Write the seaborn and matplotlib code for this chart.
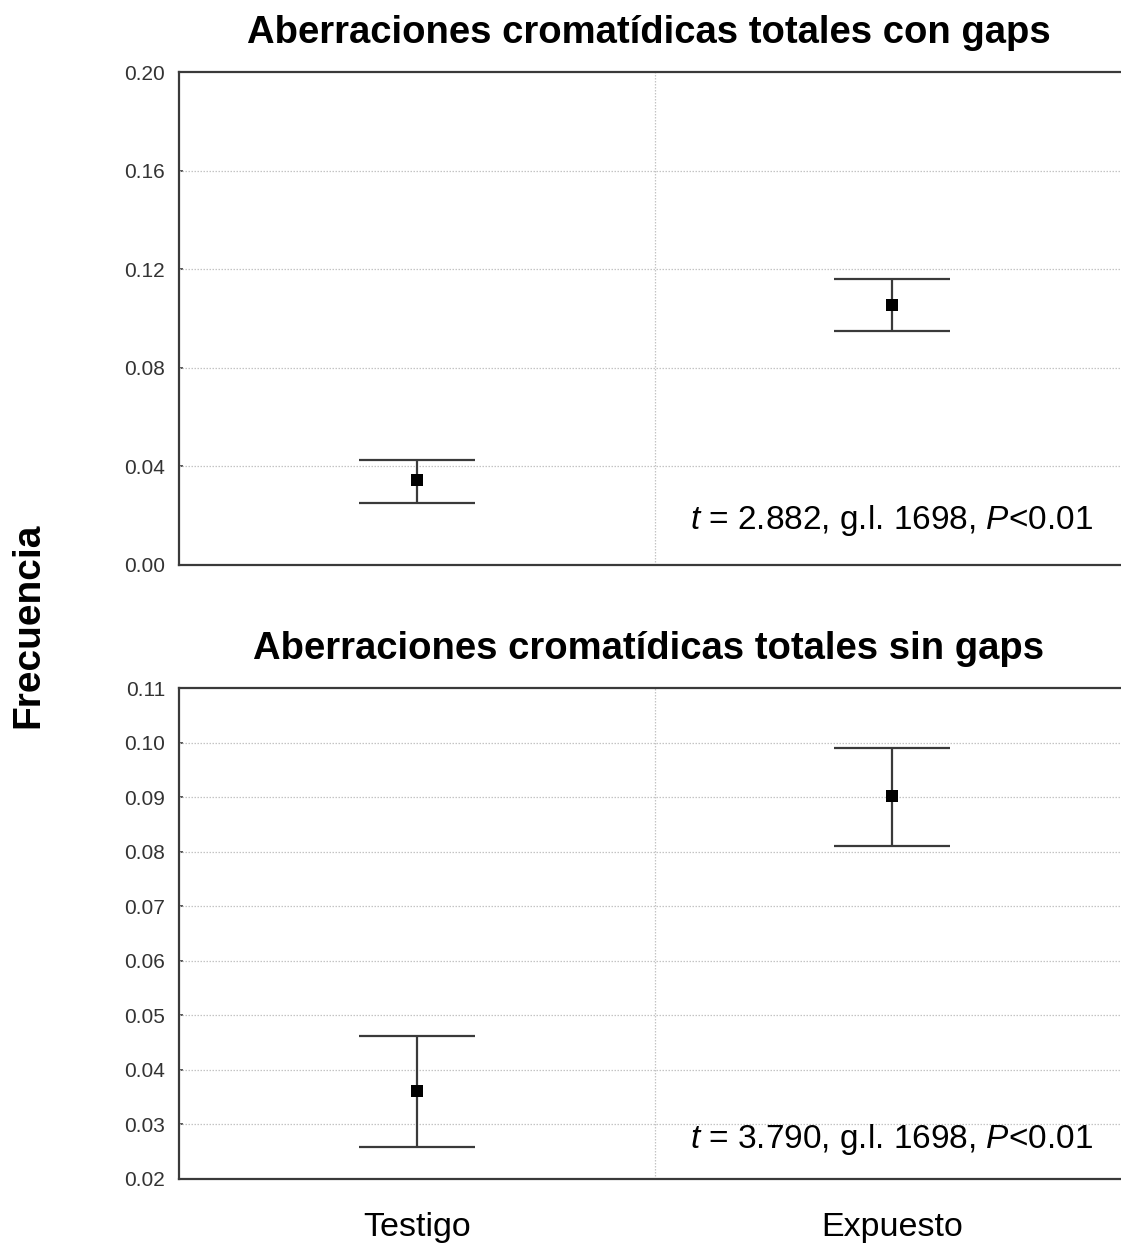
import matplotlib
matplotlib.use("Agg")
import matplotlib.pyplot as plt
import seaborn as sns
import pandas as pd

# Groups and summary statistics (mean with lower/upper interval limits)
groups = ["Testigo", "Expuesto"]

con_gaps_mean = [0.0345, 0.1055]
con_gaps_low = [0.0252, 0.0949]
con_gaps_high = [0.0426, 0.1160]

sin_gaps_mean = [0.0361, 0.0902]
sin_gaps_low = [0.0259, 0.0811]
sin_gaps_high = [0.0462, 0.0990]

titles = ["Aberraciones cromatídicas totales con gaps",
          "Aberraciones cromatídicas totales sin gaps"]
stats_text = [r"$\mathit{t}$ = 2.882, g.l. 1698, $\mathit{P}$<0.01",
              r"$\mathit{t}$ = 3.790, g.l. 1698, $\mathit{P}$<0.01"]
top_ticks = [0.00, 0.04, 0.08, 0.12, 0.16, 0.20]
bottom_ticks = [0.02, 0.03, 0.04, 0.05, 0.06, 0.07, 0.08, 0.09, 0.10, 0.11]

sns.set_theme(style="white")
plt.rcParams["font.family"] = ["Liberation Sans", "DejaVu Sans"]
plt.rcParams["mathtext.fontset"] = "custom"
plt.rcParams["mathtext.it"] = "Liberation Sans:italic"
plt.rcParams["mathtext.rm"] = "Liberation Sans"

W, H = 1121, 1243
fig = plt.figure(figsize=(W / 100, H / 100), dpi=100)
fig.patch.set_facecolor("white")

def px_axes(left, top, right, bottom):
    return fig.add_axes([left / W, 1 - bottom / H, (right - left) / W, (bottom - top) / H])

ax_top = px_axes(179, 72, 1130, 565)
ax_bot = px_axes(179, 688, 1130, 1179)

panels = [
    (ax_top, con_gaps_mean, con_gaps_low, con_gaps_high, top_ticks, (0.0, 0.20)),
    (ax_bot, sin_gaps_mean, sin_gaps_low, sin_gaps_high, bottom_ticks, (0.02, 0.11)),
]

for i, (ax, mean, low, high, ticks, ylim) in enumerate(panels):
    df = pd.DataFrame({"grupo": groups, "media": mean, "inf": low, "sup": high})
    # interval bars with wide caps
    ax.errorbar(x=[0, 1], y=df["media"],
                yerr=[df["media"] - df["inf"], df["sup"] - df["media"]],
                fmt="none", ecolor="#3a3a3a", elinewidth=1.6,
                capsize=42, capthick=1.6, zorder=2)
    sns.scatterplot(data=df, x="grupo", y="media", marker="s", s=75,
                    color="black", edgecolor="black", linewidth=0,
                    ax=ax, zorder=3, legend=False)
    ax.set_xlim(-0.5, 1.5)
    ax.set_ylim(*ylim)
    ax.set_yticks(ticks)
    ax.set_yticklabels([f"{t:.2f}" for t in ticks])
    ax.set_xlabel("")
    ax.set_ylabel("")
    # dotted reference grid
    for t in ticks[1:-1]:
        ax.axhline(t, color="#c4c4c4", lw=0.9, ls=(0, (1.2, 1.2)), zorder=1)
    ax.axvline(0.5, color="#c4c4c4", lw=0.9, ls=(0, (1.2, 1.2)), zorder=1)
    for sp in ax.spines.values():
        sp.set_color("#3a3a3a")
        sp.set_linewidth(1.6)
    ax.spines["right"].set_visible(False)
    ax.tick_params(axis="y", direction="in", length=3, width=1.2, color="#3a3a3a",
                   labelsize=15, labelcolor="#333333", pad=10, left=True)
    ax.tick_params(axis="x", bottom=False, top=False)
    ax.text(0.961, 0.09 if i == 0 else 0.08, stats_text[i], transform=ax.transAxes,
            ha="right", va="center", fontsize=24, color="black")

ax_top.set_xticks([0, 1])
ax_top.set_xticklabels([])
ax_bot.set_xticks([0, 1])
ax_bot.set_xticklabels(groups, fontsize=24.5, color="black")
ax_bot.tick_params(axis="x", pad=18)

fig.text(649 / W, 1 - 33 / H, titles[0], ha="center", va="center",
         fontsize=27.5, fontweight="bold", color="black")
fig.text(649 / W, 1 - 649 / H, titles[1], ha="center", va="center",
         fontsize=27.5, fontweight="bold", color="black")
fig.text(28 / W, 1 - 625 / H, "Frecuencia", rotation=90, ha="center", va="center",
         fontsize=28, fontweight="bold", color="black")

fig.savefig("out.png", dpi=100, facecolor="white")
